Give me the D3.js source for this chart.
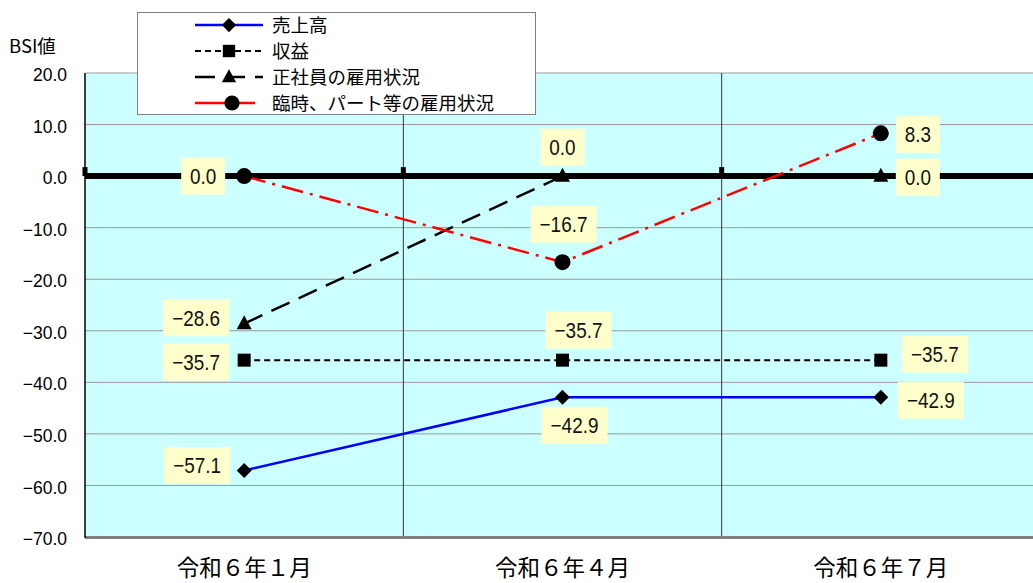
<!DOCTYPE html>
<html>
<head>
<meta charset="utf-8">
<script src="https://cdn.jsdelivr.net/npm/d3@7/dist/d3.min.js"></script>
<style>
  html, body { margin: 0; padding: 0; background: #ffffff; }
  svg { display: block; }
</style>
</head>
<body>
<svg id="chart" width="1033" height="583"></svg>
<script>
// Quarterly BSI survey values
const categories = ["令和６年１月", "令和６年４月", "令和６年７月"];
const seriesNames = ["売上高", "収益", "正社員の雇用状況", "臨時、パート等の雇用状況"];
const sales      = [-57.1, -42.9, -42.9];
const profit     = [-35.7, -35.7, -35.7];
const fullTime   = [-28.6, 0.0, 0.0];
const partTime   = [0.0, -16.7, 8.3];
const yTicks     = [20, 10, 0, -10, -20, -30, -40, -50, -60, -70];
const yLabel     = "BSI値";

const seriesValues = [sales, profit, fullTime, partTime];

// Appearance of each series
const styles = [
  { color: "#0000ff", width: 2.5, dash: null,        marker: "diamond" },
  { color: "#000000", width: 2,   dash: "6,4",       marker: "square" },
  { color: "#000000", width: 2.5, dash: "20,10",     marker: "triangle" },
  { color: "#ff0000", width: 2.5, dash: "22,7,3,7",  marker: "circle" }
];

// Value-label box offsets (box centre relative to the point), per series and category
const labelOffsets = [
  [[-47, -5], [12, 28], [50, 3]],
  [[-48, 2], [16, -30], [54, -6]],
  [[-48, -6], [0, -29], [37, 1]],
  [[-41, 0], [1, -38], [37, 1]]
];

const svg = d3.select("#chart");
const plotLeft = 85, plotRight = 1040, plotTop = 73, plotBottom = 537;

const x = d3.scaleBand().domain(categories).range([plotLeft, plotRight]).padding(0);
const y = d3.scaleLinear().domain([-70, 20]).range([plotBottom, plotTop]);
const cx = c => x(c) + x.bandwidth() / 2;

// Plot background
svg.append("rect")
  .attr("x", plotLeft).attr("y", plotTop)
  .attr("width", plotRight - plotLeft).attr("height", plotBottom - plotTop)
  .attr("fill", "#ccffff");

// Horizontal gridlines
svg.append("g").selectAll("line").data(yTicks).join("line")
  .attr("x1", plotLeft).attr("x2", plotRight)
  .attr("y1", d => y(d)).attr("y2", d => y(d))
  .attr("stroke", "#999999").attr("stroke-width", 1);

// Vertical category dividers
svg.append("g").selectAll("line").data(categories.slice(1)).join("line")
  .attr("x1", d => x(d)).attr("x2", d => x(d))
  .attr("y1", plotTop).attr("y2", plotBottom)
  .attr("stroke", "#333333").attr("stroke-width", 1);

// Plot border (bottom) and left axis line
svg.append("line").attr("x1", plotLeft).attr("x2", plotRight)
  .attr("y1", plotBottom + 0.5).attr("y2", plotBottom + 0.5)
  .attr("stroke", "#808080").attr("stroke-width", 3);
svg.append("line").attr("x1", plotLeft).attr("x2", plotLeft)
  .attr("y1", plotTop).attr("y2", plotBottom + 1)
  .attr("stroke", "#000000").attr("stroke-width", 1.5);

// Y axis labels
const yAxis = d3.axisLeft(y).tickValues(yTicks).tickSize(0).tickPadding(18)
  .tickFormat(d3.format(".1f"));
svg.append("g").attr("transform", `translate(${plotLeft},2)`).call(yAxis)
  .call(g => g.select(".domain").remove())
  .selectAll("text")
  .attr("font-family", "'Liberation Sans', Arial, sans-serif")
  .attr("font-size", 17.5).attr("fill", "#000");

svg.append("text").attr("x", 9).attr("y", 53)
  .attr("font-family", "'Noto Sans CJK JP', sans-serif")
  .attr("font-size", 18.5).attr("fill", "#000").text(yLabel);

// Zero line with category tick marks
const tickXs = [plotLeft].concat(categories.slice(1).map(d => x(d)));
svg.append("g").selectAll("rect").data(tickXs).join("rect")
  .attr("x", d => d - 2.5).attr("y", y(0) - 9)
  .attr("width", 5).attr("height", 9).attr("fill", "#000");
svg.append("line").attr("x1", plotLeft).attr("x2", plotRight)
  .attr("y1", y(0)).attr("y2", y(0))
  .attr("stroke", "#000").attr("stroke-width", 6);

// X axis category labels
svg.append("g").selectAll("text").data(categories).join("text")
  .attr("x", d => cx(d)).attr("y", 576)
  .attr("text-anchor", "middle")
  .attr("font-family", "'Noto Sans CJK JP', sans-serif")
  .attr("font-size", 22.5).attr("fill", "#000")
  .text(d => d);

// Marker drawing
function drawMarker(g, type, px, py, scale = 1) {
  if (type === "diamond") {
    const s = 7.5 * scale;
    g.append("path").attr("d", `M${px},${py - s}L${px + s},${py}L${px},${py + s}L${px - s},${py}Z`).attr("fill", "#000");
  } else if (type === "square") {
    const s = 6.5 * scale;
    g.append("rect").attr("x", px - s).attr("y", py - s).attr("width", 2 * s).attr("height", 2 * s).attr("fill", "#000");
  } else if (type === "triangle") {
    const s = 7.5 * scale;
    g.append("path").attr("d", `M${px},${py - s * 1.1}L${px + s},${py + s * 0.75}L${px - s},${py + s * 0.75}Z`).attr("fill", "#000");
  } else {
    g.append("circle").attr("cx", px).attr("cy", py).attr("r", 8 * scale).attr("fill", "#000");
  }
}

// Series lines and markers
const line = d3.line().x((d, i) => cx(categories[i])).y(d => y(d));
seriesValues.forEach((vals, si) => {
  const st = styles[si];
  const g = svg.append("g");
  g.append("path").datum(vals).attr("d", line)
    .attr("fill", "none").attr("stroke", st.color)
    .attr("stroke-width", st.width)
    .attr("stroke-dasharray", st.dash);
  vals.forEach((v, i) => drawMarker(g, st.marker, cx(categories[i]), y(v)));
});

// Value labels
const fmt = d3.format(".1f");
const labelLayer = svg.append("g");
seriesValues.forEach((vals, si) => {
  vals.forEach((v, i) => {
    const txt = fmt(v);
    const [dx, dy] = labelOffsets[si][i];
    const bx = cx(categories[i]) + dx, by = y(v) + dy;
    const w = txt.length <= 3 ? 44 : 66, h = 37;
    labelLayer.append("rect")
      .attr("x", bx - w / 2).attr("y", by - h / 2)
      .attr("width", w).attr("height", h).attr("fill", "#ffffcc");
    labelLayer.append("text")
      .attr("transform", `translate(${bx},${by + 8}) scale(0.86,1)`)
      .attr("text-anchor", "middle")
      .attr("font-family", "'Liberation Sans', Arial, sans-serif")
      .attr("font-size", 22).attr("fill", "#111")
      .text(txt);
  });
});

// Legend
const legend = svg.append("g");
legend.append("rect").attr("x", 137.5).attr("y", 12.5).attr("width", 398).attr("height", 102)
  .attr("fill", "#ffffff").attr("stroke", "#808080").attr("stroke-width", 1);
const rowY = [25, 51, 77, 103];
seriesNames.forEach((name, si) => {
  const st = styles[si];
  const ry = rowY[si];
  const x1 = 195, x2 = si === 3 ? 255 : 263;
  const mx = si === 3 ? 232 : 229;
  legend.append("line").attr("x1", x1).attr("x2", x2).attr("y1", ry).attr("y2", ry)
    .attr("stroke", st.color).attr("stroke-width", st.width)
    .attr("stroke-dasharray", si === 2 ? "20,10" : (si === 3 ? null : st.dash));
  drawMarker(legend, st.marker, mx, ry, 0.95);
  legend.append("text").attr("x", 272).attr("y", ry + 7)
    .attr("font-family", "'Noto Sans CJK JP', sans-serif")
    .attr("font-size", 18.5).attr("fill", "#000")
    .text(name);
});
</script>
</body>
</html>
